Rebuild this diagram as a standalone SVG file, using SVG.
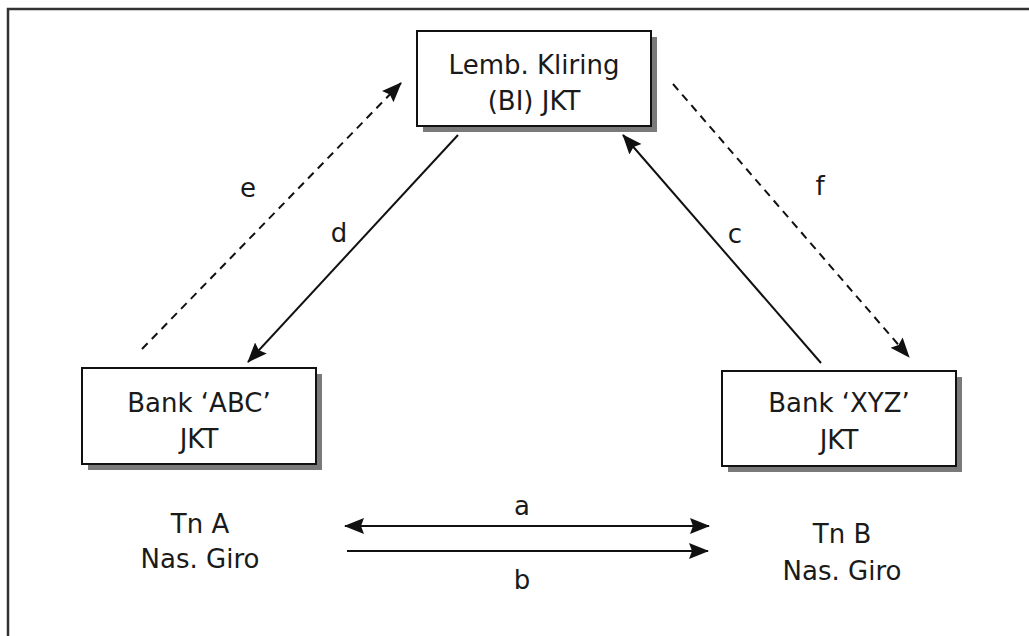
<svg xmlns="http://www.w3.org/2000/svg" width="1029" height="636" viewBox="0 0 1029 636">
<style>
  .box { fill: #ffffff; stroke: #111111; stroke-width: 2; }
  .shadow { fill: #7a7a7a; }
  .t { font-family: "DejaVu Sans", Verdana, sans-serif; font-size: 26px; fill: #1a1a1a; text-anchor: middle; }
  .ln { stroke: #111111; stroke-width: 2; fill: none; }
  .dash { stroke-dasharray: 8 6; }
  .frame { stroke: #333333; stroke-width: 2.5; fill: none; }
</style>
<defs>
  <marker id="ah" markerUnits="userSpaceOnUse" markerWidth="22" markerHeight="18" refX="19" refY="9" orient="auto-start-reverse">
    <path d="M0,1 L20,9 L0,17 L3,9 Z" fill="#111111"/>
  </marker>
</defs>
<rect width="1029" height="636" fill="#ffffff"/>
<polyline class="frame" points="8,640 8,9 1032,9"/>

<g id="node-lembaga">
  <rect class="shadow" x="423" y="37" width="234" height="95"/>
  <rect class="box" x="417" y="31" width="234" height="95"/>
  <text class="t" x="534" y="74">Lemb. Kliring</text>
  <text class="t" x="534" y="110">(BI) JKT</text>
</g>

<g id="node-bank-abc">
  <rect class="shadow" x="88" y="374" width="234" height="96"/>
  <rect class="box" x="82" y="368" width="234" height="96"/>
  <text class="t" x="199" y="412">Bank ‘ABC’</text>
  <text class="t" x="199" y="448">JKT</text>
</g>

<g id="node-bank-xyz">
  <rect class="shadow" x="728" y="377" width="234" height="95"/>
  <rect class="box" x="722" y="371" width="234" height="95"/>
  <text class="t" x="839" y="412">Bank ‘XYZ’</text>
  <text class="t" x="839" y="449">JKT</text>
</g>

<g id="node-tn-a">
  <text class="t" x="200" y="533">Tn A</text>
  <text class="t" x="200" y="568">Nas. Giro</text>
</g>

<g id="node-tn-b">
  <text class="t" x="842" y="543">Tn B</text>
  <text class="t" x="842" y="580">Nas. Giro</text>
</g>

<g id="connectors">
  <line class="ln dash" x1="142" y1="349" x2="401" y2="83" marker-end="url(#ah)"/>
  <line class="ln" x1="458" y1="135" x2="248" y2="362" marker-end="url(#ah)"/>
  <line class="ln" x1="821" y1="363" x2="623" y2="135" marker-end="url(#ah)"/>
  <line class="ln dash" x1="673" y1="84" x2="909" y2="357" marker-end="url(#ah)"/>
  <line class="ln" x1="345" y1="526" x2="709" y2="526" marker-start="url(#ah)" marker-end="url(#ah)"/>
  <line class="ln" x1="347" y1="551" x2="708" y2="551" marker-end="url(#ah)"/>
  <text class="t" x="248" y="197">e</text>
  <text class="t" x="339" y="242">d</text>
  <text class="t" x="735" y="243">c</text>
  <text class="t" x="820" y="195">f</text>
  <text class="t" x="522" y="515">a</text>
  <text class="t" x="522" y="589">b</text>
</g>
</svg>
